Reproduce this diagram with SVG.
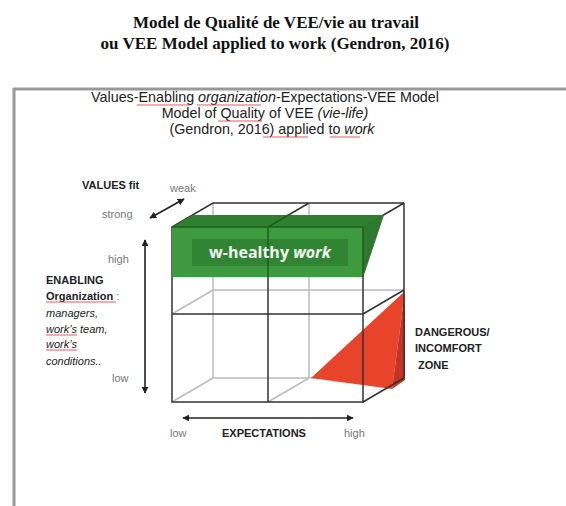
<svg xmlns="http://www.w3.org/2000/svg" width="566" height="506" viewBox="0 0 566 506">
<defs>
<marker id="ah" viewBox="0 0 10 10" refX="9" refY="5" markerWidth="7" markerHeight="7" markerUnits="userSpaceOnUse" orient="auto-start-reverse">
<path d="M0,0 L10,5 L0,10 z" fill="#222"/>
</marker>
<style>
.title{font-family:"Liberation Serif",serif;font-weight:bold;font-size:17px;fill:#111;text-anchor:middle}
.sub{font-family:"Liberation Sans",Arial,sans-serif;font-size:14.3px;fill:#222;text-anchor:middle}
.lbl{font-family:"Liberation Sans",Arial,sans-serif;font-size:11px;fill:#222}
.b{font-weight:bold}
.g{fill:#777}
.it{font-style:italic}
.dk{stroke:#333;stroke-width:1.5;fill:none}
.lt{stroke:#bcbcbc;stroke-width:1.5;fill:none}
.arr{stroke:#222;stroke-width:1.6;fill:none;marker-start:url(#ah);marker-end:url(#ah)}
.sq{stroke:#d33;stroke-width:0.8;fill:none}
</style>
</defs>
<rect width="566" height="506" fill="#fff"/>

<g id="title">
<text class="title" x="276" y="28">Model de Qualité de VEE/vie  au travail</text>
<text class="title" x="275" y="49">ou VEE Model applied to work (Gendron, 2016)</text>
</g>

<g id="frame">
<line x1="13" y1="89" x2="566" y2="89" stroke="#999" stroke-width="3"/>
<line x1="14" y1="88" x2="14" y2="506" stroke="#999" stroke-width="3"/>
</g>

<g id="subtitle">
<text class="sub" x="265" y="102">Values-Enabling <tspan class="it">organization</tspan>-Expectations-VEE Model</text>
<text class="sub" x="265" y="118">Model of Quality of VEE <tspan class="it">(vie-life)</tspan></text>
<text class="sub" x="272" y="134">(Gendron, 2016) applied to <tspan class="it">work</tspan></text>
<path class="sq" d="M137,105 l53,0 M197,105 l64,0 M218,121 l44,0 M263,137 l45,0 M330,137 l30,0"/>
</g>

<g id="cube">
<path class="lt" d="M213,203 V378 H404 M309,203 V378 M213,290 H404 M172,314 L213,290 M172,402 L213,378 M268,402 L309,378"/>
<line x1="172" y1="277" x2="363" y2="277" stroke="#c8c8c8" stroke-width="1"/>
</g>

<g id="danger-zone">
<polygon points="311,378 405,291 392,389" fill="#e8432b"/>
<polygon points="405,291 405,380 392,389" fill="#c73320"/>
</g>

<g id="cube-front">
<path class="dk" d="M172,227 L213,203 H404 M268,227 L309,203 M363,227 L404,203 M404,203 V378 M363,314 L404,290 M363,402 L404,378"/>
<path class="dk" d="M172,227 V402 H363 V227 Z M268,227 V402 M172,314 H363"/>
</g>

<g id="healthy-work">
<polygon points="172,227 192.5,215 384,215 363,227" fill="#2f7f30"/>
<polygon points="363,227 384,215 365,272 363,277" fill="#2d7a2e"/>
<rect x="172" y="227" width="191" height="50" fill="#3e9a3f"/>
<rect x="192" y="239" width="156" height="27" fill="#318434"/>
<path d="M268,227 V277 M268,227 L288.5,215 M172,227 H363 M363,227 V277" stroke="#1f5e20" stroke-width="1.5" fill="none"/>
<text x="270" y="258" font-family="'Open Sans','Liberation Sans',sans-serif" font-size="16" font-weight="bold" fill="#eef6ee" text-anchor="middle">w-healthy <tspan font-style="italic">work</tspan></text>
</g>

<g id="connectors">
<line class="arr" x1="150" y1="218" x2="184" y2="199"/>
<line class="arr" x1="145" y1="240" x2="145" y2="393"/>
<line class="arr" x1="183" y1="418" x2="353" y2="418"/>
</g>

<g id="values-label">
<text class="lbl b" x="82" y="189">VALUES fit</text>
<text class="lbl g" x="170" y="192">weak</text>
<text class="lbl g" x="102" y="218">strong</text>
</g>

<g id="enabling-label">
<text class="lbl g" x="108" y="263">high</text>
<text class="lbl b" x="46" y="284">ENABLING</text>
<text class="lbl" x="46" y="300"><tspan class="b">Organization</tspan><tspan class="g"> :</tspan></text>
<path class="sq" d="M46,302 h70 M46,335 h31 M46,350 h31"/>
<text class="lbl it" x="46" y="317">managers,</text>
<text class="lbl it" x="46" y="333">work’s team,</text>
<text class="lbl it" x="46" y="348">work’s</text>
<text class="lbl it" x="46" y="365">conditions..</text>
<text class="lbl g" x="112" y="382">low</text>
</g>

<g id="danger-label">
<text class="lbl b" x="415" y="336">DANGEROUS/</text>
<text class="lbl b" x="415" y="352">INCOMFORT</text>
<text class="lbl b" x="418" y="369">ZONE</text>
</g>

<g id="expectations-label">
<text class="lbl g" x="170" y="437">low</text>
<text class="lbl b" x="222" y="437">EXPECTATIONS</text>
<text class="lbl g" x="344" y="437">high</text>
</g>
</svg>
